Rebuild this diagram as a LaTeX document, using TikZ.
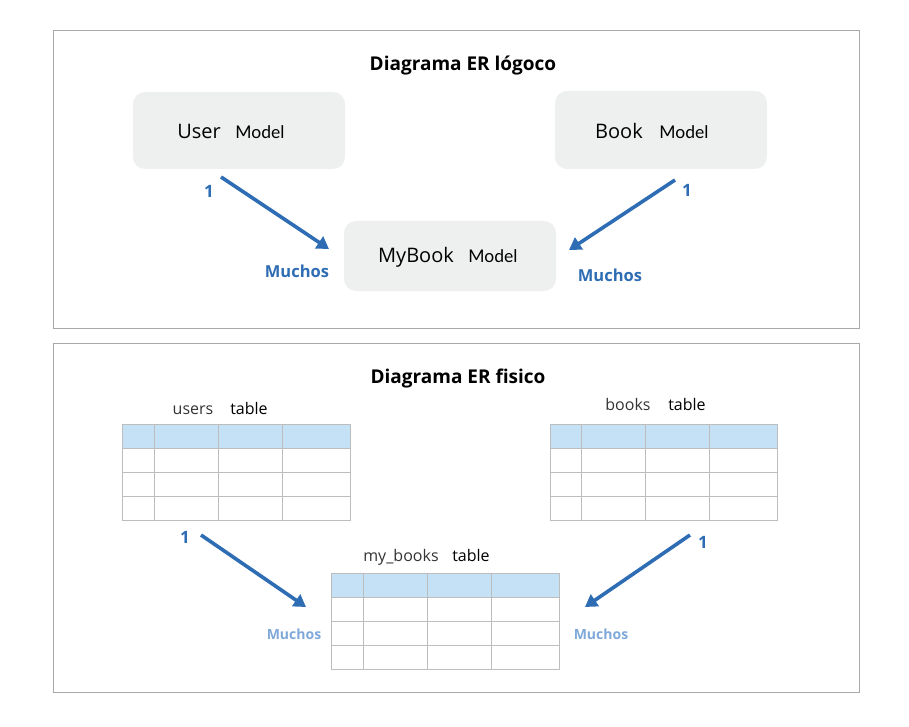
\documentclass[tikz,border=0pt]{standalone}
\usepackage{fontspec}
\setmainfont{Open Sans}
\newfontfamily\latofont{Lato}
\usetikzlibrary{arrows.meta}
\definecolor{framegray}{HTML}{A8A8A8}
\definecolor{boxfill}{HTML}{EEEFEF}
\definecolor{arrowblue}{HTML}{2E6DB4}
\definecolor{lightlabel}{HTML}{7FA9D9}
\definecolor{headblue}{HTML}{C5E1F5}
\definecolor{gridgray}{HTML}{BDBDBD}
\definecolor{namegray}{HTML}{333333}
\tikzset{
  frame/.style={draw=framegray, line width=1pt},
  modelbox/.style={fill=boxfill, rounded corners=12pt, draw=none},
  title/.style={font=\fontsize{19}{22}\selectfont\bfseries, inner sep=0pt},
  rel/.style={draw=arrowblue, line width=3.6pt, -{Triangle[width=14pt,length=12pt]}},
  onelbl/.style={text=arrowblue, font=\fontsize{17}{20}\selectfont\bfseries, inner sep=0pt},
  manylbl/.style={text=arrowblue, font=\fontsize{16.5}{19}\selectfont\bfseries, inner sep=0pt},
  manylight/.style={text=lightlabel, font=\fontsize{14}{17}\selectfont\bfseries, inner sep=0pt},
  modeltxt/.style={inner sep=0pt, anchor=base},
  tbltxt/.style={inner sep=0pt, anchor=base},
  gridline/.style={draw=gridgray, line width=1pt},
}
\begin{document}
\begin{tikzpicture}[x=1pt,y=-1pt]
\useasboundingbox (0,0) rectangle (909,727);
% frames
\draw[frame] (53,31) rectangle (859,328);
\draw[frame] (53,343) rectangle (859,692);
\node[title] (t1) at (463,66) {Diagrama ER lógoco};
\node[title] (t2) at (458,379) {Diagrama ER fisico};
% model boxes
\path[modelbox] (133,92) rectangle (345,169);
\path[modelbox] (555,91) rectangle (767,169);
\path[modelbox] (344,221) rectangle (556,291);
\node[modeltxt, font=\fontsize{20}{24}\selectfont] (userA) at (199,139) {User};
\node[modeltxt, font=\latofont\fontsize{17.5}{20}\selectfont] (userB) at (260,139) {Model};
\node[modeltxt, font=\fontsize{20}{24}\selectfont] (bookA) at (619,139) {Book};
\node[modeltxt, font=\latofont\fontsize{17.5}{20}\selectfont] (bookB) at (684,139) {Model};
\node[modeltxt, font=\fontsize{20}{24}\selectfont] (mbA) at (416,262) {MyBook};
\node[modeltxt, font=\latofont\fontsize{17.5}{20}\selectfont] (mbB) at (493,262) {Model};
% arrows top
\coordinate (a1s) at (221,177);
\coordinate (a1e) at (329,249);
\coordinate (a2s) at (675,180);
\coordinate (a2e) at (569,250);
\draw[rel] (a1s) -- (a1e);
\draw[rel] (a2s) -- (a2e);
\node[onelbl] (o1) at (209,191) {1};
\node[manylbl] (m1) at (297,271) {Muchos};
\node[onelbl] (o2) at (687,190) {1};
\node[manylbl] (m2) at (610,275) {Muchos};
% tables
\foreach \xa/\xb/\xc/\xd/\xe/\ya in {122/154/218/282/350/424, 550/581/645/709/777/424, 331/363/427/491/559/573}{
  \fill[headblue] (\xa,\ya) rectangle (\xe,\ya+24);
  \draw[gridline] (\xa,\ya) rectangle (\xe,\ya+96);
  \foreach \r in {24,48,72} \draw[gridline] (\xa,\ya+\r) -- (\xe,\ya+\r);
  \foreach \c in {\xb,\xc,\xd} \draw[gridline] (\c,\ya) -- (\c,\ya+96);
}
\node[tbltxt, text=namegray, font=\fontsize{16}{19}\selectfont] (usersA) at (193,414) {users};
\node[tbltxt, font=\fontsize{16}{19}\selectfont] (usersB) at (249,414) {table};
\node[tbltxt, text=namegray, font=\fontsize{16}{19}\selectfont] (booksA) at (628,410) {books};
\node[tbltxt, font=\fontsize{16}{19}\selectfont] (booksB) at (687,410) {table};
\node[tbltxt, text=namegray, font=\fontsize{16}{19}\selectfont] (mbtA) at (401,561) {my\_books};
\node[tbltxt, font=\fontsize{16}{19}\selectfont] (mbtB) at (471,561) {table};
% arrows bottom
\coordinate (b1s) at (201,535);
\coordinate (b1e) at (306,607);
\coordinate (b2s) at (690,535);
\coordinate (b2e) at (585,607);
\draw[rel] (b1s) -- (b1e);
\draw[rel] (b2s) -- (b2e);
\node[onelbl] (o3) at (185,537) {1};
\node[manylight] (m3) at (294,634) {Muchos};
\node[onelbl] (o4) at (703,542) {1};
\node[manylight] (m4) at (601,634) {Muchos};
\end{tikzpicture}
\end{document}
